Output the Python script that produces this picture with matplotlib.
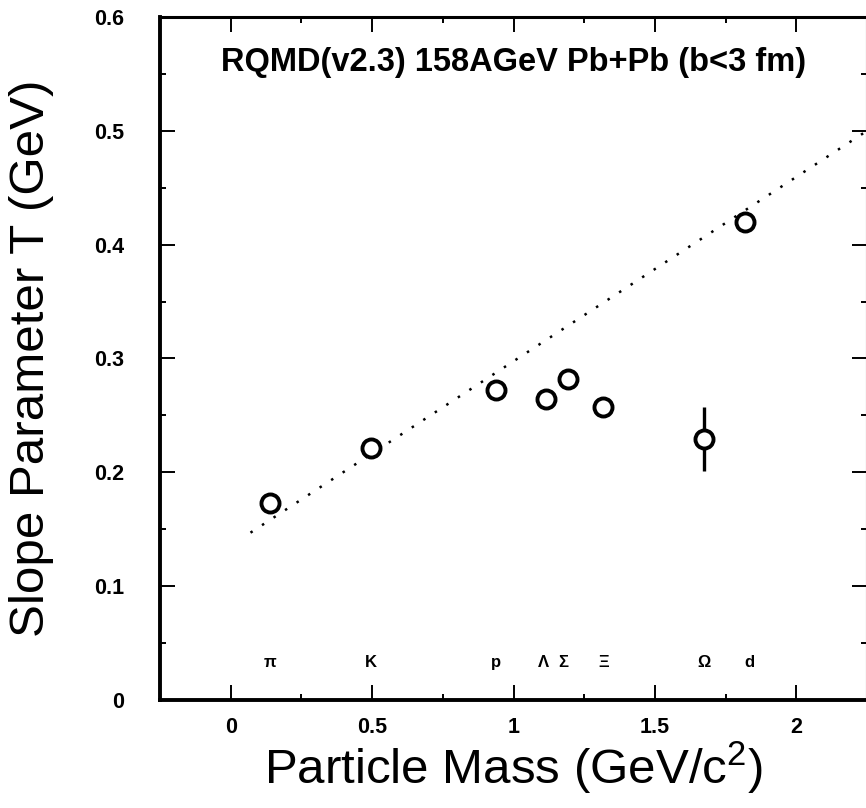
import matplotlib
matplotlib.use("Agg")
import matplotlib.pyplot as plt
from matplotlib.ticker import MultipleLocator

plt.rcParams['font.family'] = ['Liberation Sans', 'DejaVu Sans']
plt.rcParams['mathtext.fontset'] = 'custom'
plt.rcParams['mathtext.rm'] = 'Liberation Sans'
plt.rcParams['mathtext.it'] = 'Liberation Sans'

# data
particles = ['π', 'K', 'p', 'Λ', 'Σ', 'Ξ', 'Ω', 'd']
mass = [0.14, 0.495, 0.938, 1.116, 1.193, 1.318, 1.672, 1.82]
slope_T = [0.173, 0.221, 0.272, 0.264, 0.282, 0.257, 0.229, 0.420]
slope_err = [0.0, 0.0, 0.0, 0.0, 0.0, 0.0, 0.028, 0.0]
label_x = [0.14, 0.495, 0.938, 1.105, 1.175, 1.318, 1.672, 1.835]
label_y = 0.033
fit_x = [0.07, 2.25]
fit_y = [0.147, 0.500]
title_text = 'RQMD(v2.3) 158AGeV Pb+Pb (b<3 fm)'
xticks = [0, 0.5, 1, 1.5, 2]
xticklabels = ['0', '0.5', '1', '1.5', '2']
yticks = [0, 0.1, 0.2, 0.3, 0.4, 0.5, 0.6]
yticklabels = ['0', '0.1', '0.2', '0.3', '0.4', '0.5', '0.6']

W, H = 866, 808
fig = plt.figure(figsize=(W / 100, H / 100), dpi=100)
ax = fig.add_axes([160 / W, 1 - 700 / H, (867 - 160) / W, (700 - 17) / H])

ax.plot(fit_x, fit_y, color='black', lw=1.8, linestyle=(0, (1.0, 4.5)))
ax.errorbar(mass, slope_T, yerr=slope_err, fmt='o', ms=13, mfc='white',
            mec='black', mew=2.8, ecolor='black', elinewidth=2.4, capsize=0,
            zorder=3)

for lx, name in zip(label_x, particles):
    ax.text(lx, label_y, name, ha='center', va='center', fontsize=12,
            fontweight='bold')

ax.text(1.0, 0.560, title_text, ha='center', va='center', fontsize=23.5,
        fontweight='bold')

ax.set_xlim(-0.25, 2.25)
ax.set_ylim(0, 0.6)
ax.set_xticks(xticks)
ax.set_xticklabels(xticklabels)
ax.set_yticks(yticks)
ax.set_yticklabels(yticklabels)
ax.xaxis.set_minor_locator(MultipleLocator(0.25))
ax.yaxis.set_minor_locator(MultipleLocator(0.05))
ax.tick_params(which='both', direction='in', top=True, right=True, width=1.4)
ax.tick_params(which='major', length=11, labelsize=15.5)
ax.tick_params(axis='x', which='major', pad=12)
ax.tick_params(axis='y', which='major', pad=26)
ax.tick_params(which='minor', length=4.5)
for lab in ax.get_xticklabels() + ax.get_yticklabels():
    lab.set_fontweight('bold')
for side in ['left', 'bottom']:
    ax.spines[side].set_linewidth(2.8)
for side in ['top', 'right']:
    ax.spines[side].set_linewidth(2.2)

ax.set_xlabel(r'Particle Mass (GeV/c$^{2}$)', fontsize=35.5)
ax.set_ylabel('Slope Parameter T (GeV)', fontsize=35.5)
ax.xaxis.set_label_coords(0.5, -0.058)
ax.yaxis.set_label_coords(-0.150, 0.5)

fig.savefig('out.png', dpi=100)
